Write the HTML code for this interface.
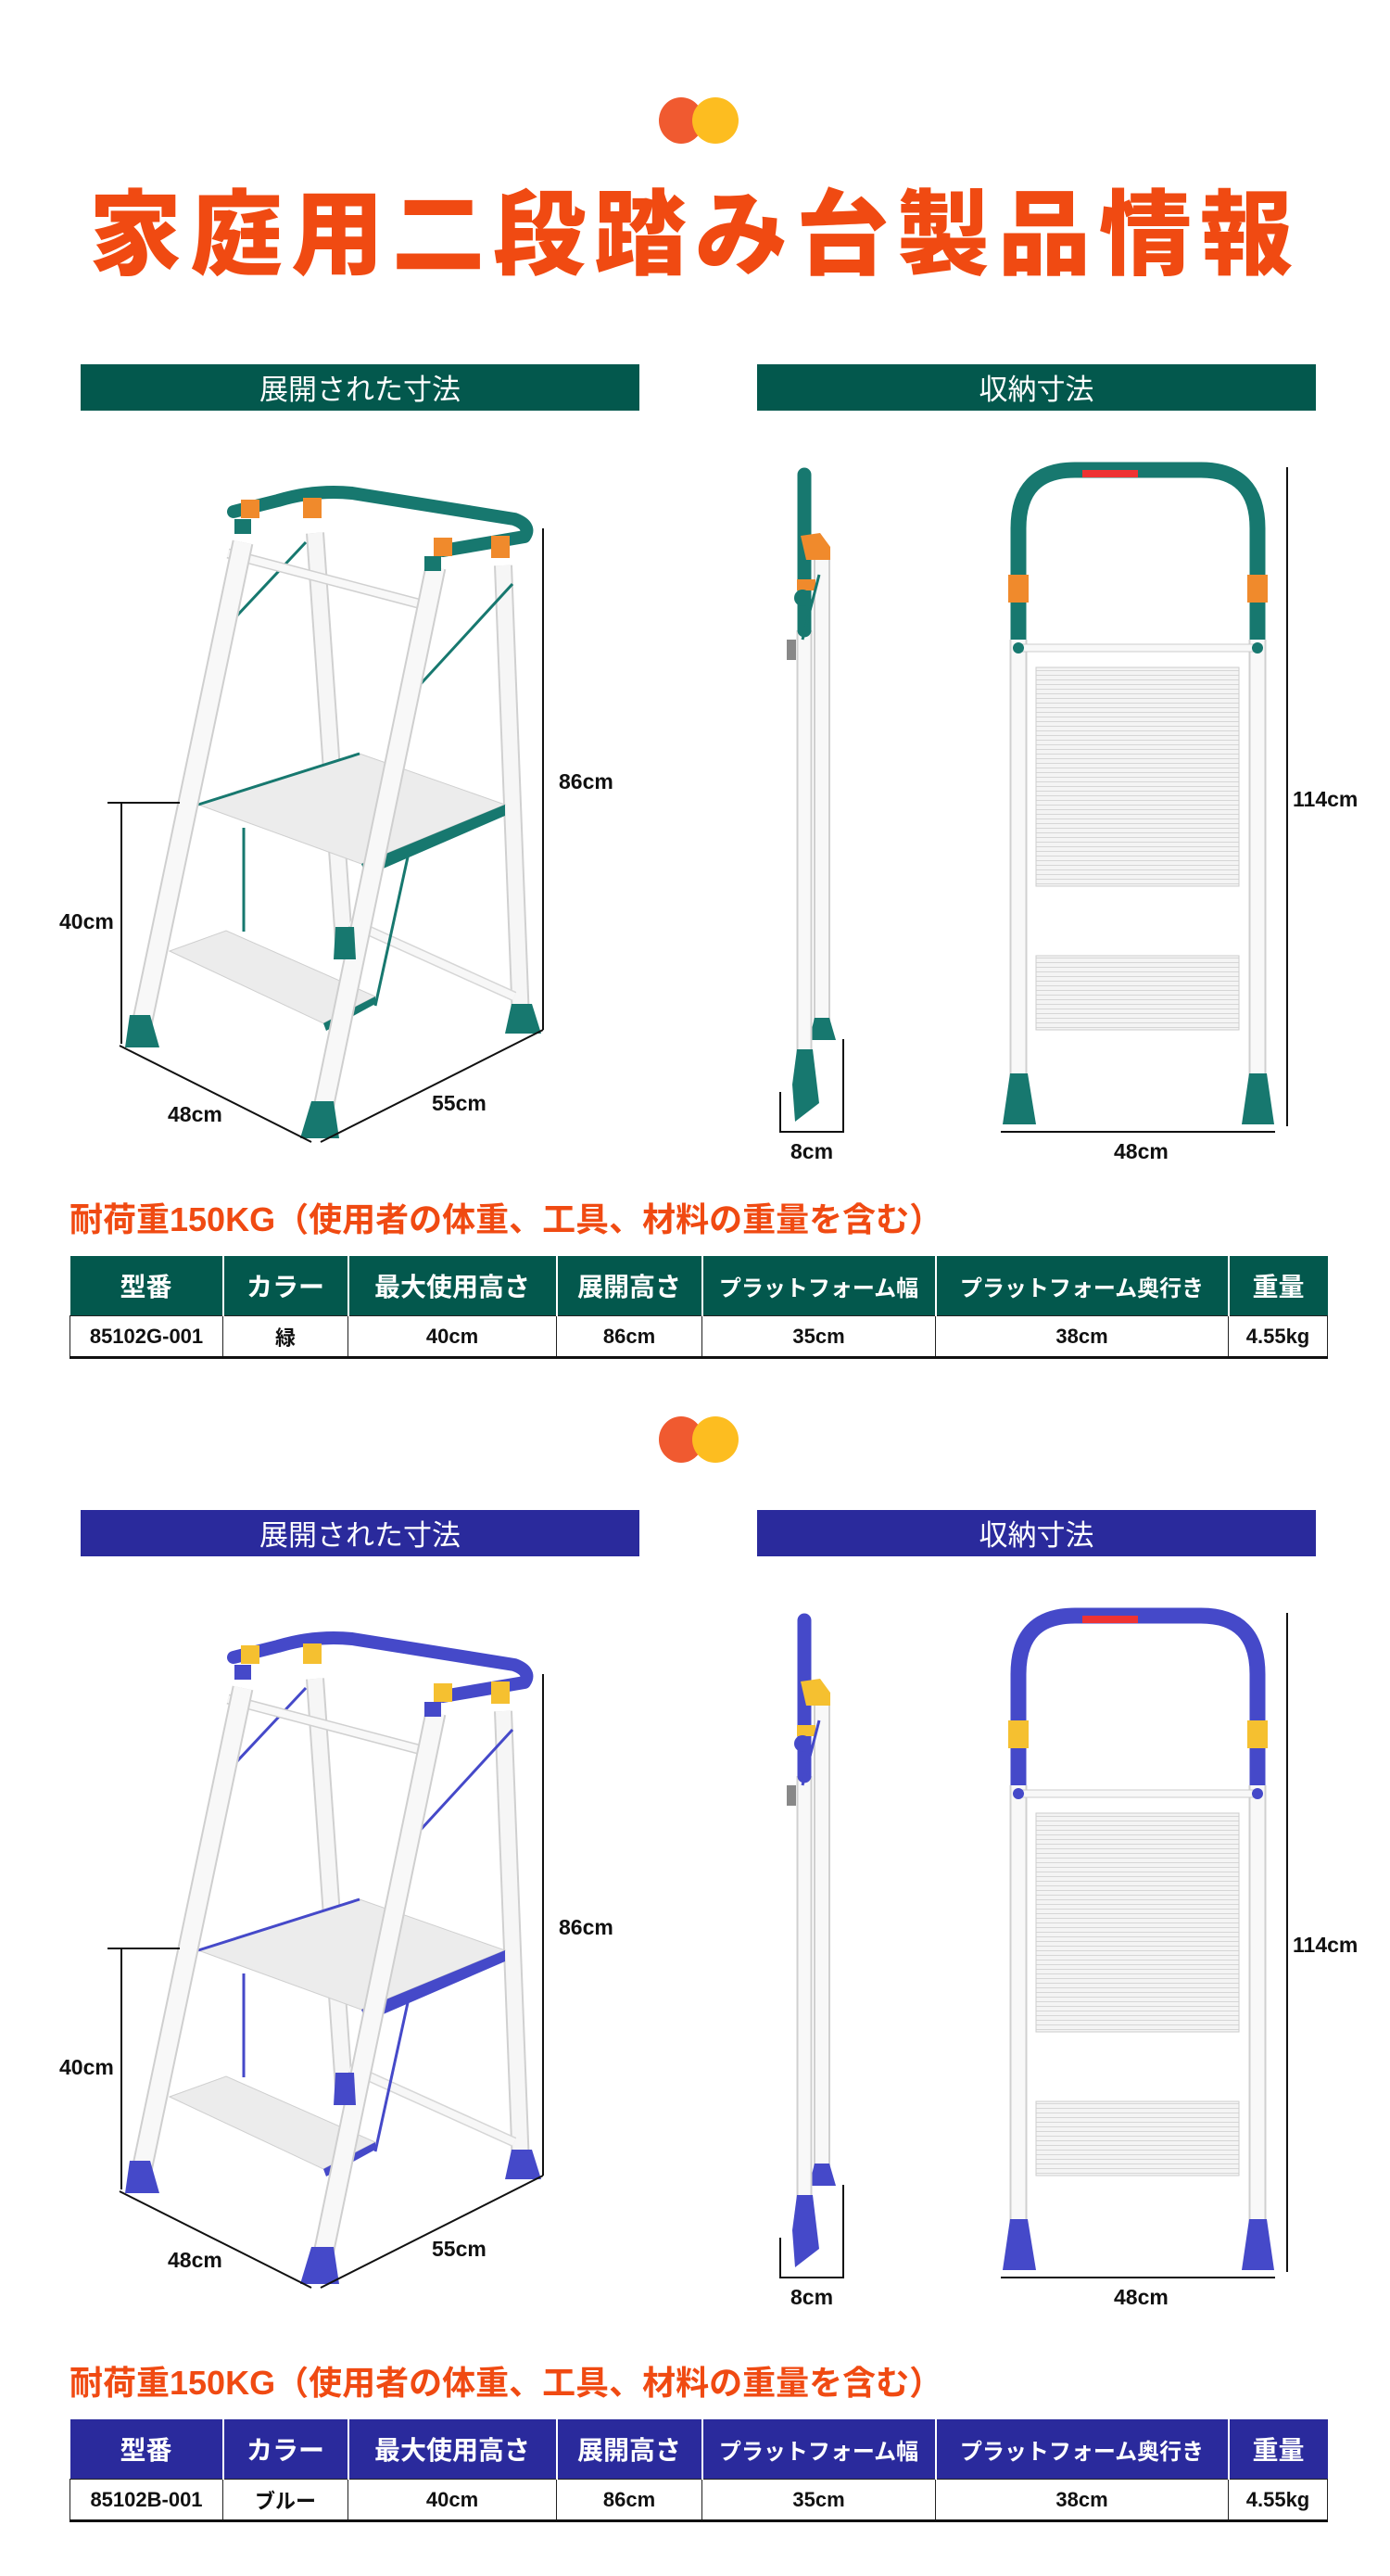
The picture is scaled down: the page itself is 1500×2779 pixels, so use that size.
<!DOCTYPE html>
<html><head><meta charset="utf-8">
<style>
html,body{margin:0;padding:0;background:#fff;}
body{width:1500px;height:2779px;position:relative;overflow:hidden;font-family:"Liberation Sans","Noto Sans CJK JP",sans-serif;}
.abs{position:absolute;}
.title{left:0;width:1500px;top:186px;text-align:center;font-size:100px;line-height:118px;font-weight:900;color:#f04a12;letter-spacing:9px;font-family:"Noto Sans CJK JP","WenQuanYi Zen Hei",sans-serif;}
.hdr{height:50px;line-height:50px;color:#fff;font-size:31px;text-align:center;font-family:"Noto Sans CJK JP",sans-serif;}
.sub{left:75px;font-size:36px;line-height:40px;font-weight:700;color:#f04a12;white-space:nowrap;font-family:"Liberation Sans","Noto Sans CJK JP",sans-serif;}
.lbl{font-size:23px;font-weight:700;color:#111;white-space:nowrap;}
table{position:absolute;left:75px;width:1357px;border-collapse:collapse;table-layout:fixed;font-family:"Liberation Sans","Noto Sans CJK JP",sans-serif;}
th{height:64px;color:#fff;font-size:28px;font-weight:700;padding:0;border-left:2px solid #fff;white-space:nowrap;}
th:first-child{border-left:none;}
th.sm{font-size:24px;}
td{height:43px;font-size:22px;font-weight:700;color:#111;text-align:center;border:1px solid #222;padding:0;white-space:nowrap;}
tr.r td{border-bottom:3px solid #111;}
</style></head><body>

<svg class="abs" style="left:0;top:0" width="1500" height="2779" viewBox="0 0 1500 2779">
<defs>
<pattern id="stripe" width="6" height="5" patternUnits="userSpaceOnUse"><rect width="6" height="5" fill="#f4f4f4"/><rect y="3" width="6" height="1" fill="#d6d6d6"/></pattern>
<g id="lad">
  <line x1="340" y1="575" x2="372" y2="1030" stroke="#d0d0d0" stroke-width="20"/>
  <line x1="340" y1="575" x2="372" y2="1030" stroke="#f6f6f6" stroke-width="16"/>
  <line x1="543" y1="610" x2="562" y2="1100" stroke="#d0d0d0" stroke-width="20"/>
  <line x1="543" y1="610" x2="562" y2="1100" stroke="#f6f6f6" stroke-width="16"/>
  <line x1="378" y1="995" x2="555" y2="1075" stroke="#d6d6d6" stroke-width="11"/>
  <line x1="378" y1="995" x2="555" y2="1075" stroke="#f7f7f7" stroke-width="8"/>
  <line x1="255" y1="665" x2="330" y2="585" stroke="var(--a)" stroke-width="3"/>
  <line x1="452" y1="740" x2="553" y2="630" stroke="var(--a)" stroke-width="3"/>
  <polygon points="214,868 388,813 545,868 390,932" fill="#ececec" stroke="#cfcfcf"/>
  <line x1="214" y1="868" x2="388" y2="813" stroke="var(--a)" stroke-width="3"/>
  <polygon points="390,932 545,868 545,880 395,945" fill="var(--a)"/>
  <line x1="263" y1="1005" x2="263" y2="893" stroke="var(--a)" stroke-width="3"/>
  <line x1="405" y1="1085" x2="441" y2="920" stroke="var(--a)" stroke-width="3"/>
  <polygon points="183,1026 244,1004 405,1075 349,1104" fill="#ececec" stroke="#cfcfcf"/>
  <polygon points="349,1104 405,1075 405,1083 352,1112" fill="var(--a)"/>
  <line x1="246" y1="597" x2="455" y2="652" stroke="#d0d0d0" stroke-width="11"/>
  <line x1="246" y1="597" x2="455" y2="652" stroke="#f8f8f8" stroke-width="8"/>
  <line x1="262" y1="585" x2="152" y2="1110" stroke="#cfcfcf" stroke-width="23"/>
  <line x1="262" y1="585" x2="152" y2="1110" stroke="#f8f8f8" stroke-width="19"/>
  <line x1="470" y1="612" x2="347" y2="1205" stroke="#cfcfcf" stroke-width="23"/>
  <line x1="470" y1="612" x2="347" y2="1205" stroke="#f8f8f8" stroke-width="19"/>
  <path d="M252,552 L300,540 Q340,528 380,532 L555,560 Q574,567 566,579 L478,594" fill="none" stroke="var(--a)" stroke-width="14" stroke-linecap="round" stroke-linejoin="round"/>
  <rect x="260" y="539" width="20" height="20" fill="var(--b)"/>
  <rect x="327" y="537" width="20" height="22" fill="var(--b)"/>
  <rect x="468" y="580" width="20" height="20" fill="var(--b)"/>
  <rect x="530" y="578" width="20" height="24" fill="var(--b)"/>
  <rect x="253" y="560" width="18" height="16" fill="var(--a)"/>
  <rect x="458" y="600" width="18" height="16" fill="var(--a)"/>
  <polygon points="140,1095 162,1095 172,1130 135,1130" fill="var(--a)"/>
  <polygon points="336,1188 360,1188 366,1228 324,1228" fill="var(--a)"/>
  <polygon points="552,1083 574,1083 584,1115 545,1115" fill="var(--a)"/>
  <polygon points="362,1000 382,1000 384,1035 360,1035" fill="var(--a)"/>
  <!-- side folded view -->
  <line x1="887" y1="600" x2="887" y2="1112" stroke="#d0d0d0" stroke-width="18"/>
  <line x1="887" y1="600" x2="887" y2="1112" stroke="#f8f8f8" stroke-width="14"/>
  <polygon points="879,1098 895,1098 902,1122 873,1122" fill="var(--a)"/>
  <line x1="868" y1="680" x2="868" y2="1140" stroke="#d0d0d0" stroke-width="17"/>
  <line x1="868" y1="680" x2="868" y2="1140" stroke="#f8f8f8" stroke-width="13"/>
  <line x1="868" y1="512" x2="868" y2="680" stroke="var(--a)" stroke-width="15" stroke-linecap="round"/>
  <polygon points="860,1132 877,1132 884,1190 858,1210 855,1170" fill="var(--a)"/>
  <polygon points="864,578 885,575 896,590 896,604 870,604" fill="var(--b)"/>
  <rect x="860" y="625" width="20" height="12" fill="var(--b)"/>
  <circle cx="866" cy="645" r="9" fill="var(--a)"/>
  <line x1="884" y1="620" x2="866" y2="690" stroke="var(--a)" stroke-width="3"/>
  <rect x="849" y="690" width="10" height="22" fill="#888"/>
  <!-- front view -->
  <rect x="1118" y="720" width="219" height="236" fill="url(#stripe)" stroke="#ccc"/>
  <rect x="1118" y="1031" width="219" height="80" fill="url(#stripe)" stroke="#ccc"/>
  <line x1="1099" y1="690" x2="1099" y2="1165" stroke="#d0d0d0" stroke-width="19"/>
  <line x1="1099" y1="690" x2="1099" y2="1165" stroke="#f8f8f8" stroke-width="15"/>
  <line x1="1357" y1="690" x2="1357" y2="1165" stroke="#d0d0d0" stroke-width="19"/>
  <line x1="1357" y1="690" x2="1357" y2="1165" stroke="#f8f8f8" stroke-width="15"/>
  <path d="M1099,690 L1099,570 Q1099,507 1160,507 L1296,507 Q1357,507 1357,570 L1357,690" fill="none" stroke="var(--a)" stroke-width="17"/>
  <rect x="1098" y="695" width="260" height="8" fill="#f8f8f8" stroke="#ccc"/>
  <circle cx="1099" cy="699" r="6" fill="var(--a)"/>
  <circle cx="1357" cy="699" r="6" fill="var(--a)"/>
  <rect x="1088" y="620" width="22" height="30" fill="var(--b)"/>
  <rect x="1346" y="620" width="22" height="30" fill="var(--b)"/>
  <polygon points="1090,1158 1109,1158 1118,1213 1082,1213" fill="var(--a)"/>
  <polygon points="1348,1158 1367,1158 1375,1213 1340,1213" fill="var(--a)"/>
  <rect x="1168" y="507" width="60" height="8" fill="#e33"/>
</g>
<g id="dims" fill="none" stroke="#111" stroke-width="2">
  <line x1="586" y1="570" x2="586" y2="1111"/>
  <polyline points="116,866 194,866"/>
  <line x1="131" y1="866" x2="131" y2="1126"/>
  <line x1="129" y1="1128" x2="336" y2="1232"/>
  <line x1="346" y1="1232" x2="586" y2="1111"/>
  <polyline points="842,1178 842,1221 910,1221 910,1121"/>
  <line x1="1389" y1="504" x2="1389" y2="1215"/>
  <line x1="1080" y1="1221" x2="1376" y2="1221"/>
</g>
</defs>
<ellipse cx="735" cy="130" rx="24" ry="25" fill="#f05a30"/>
<ellipse cx="772" cy="130" rx="25" ry="25" fill="#fdbd20"/>
<ellipse cx="735" cy="1553" rx="24" ry="25" fill="#f05a30"/>
<ellipse cx="772" cy="1553" rx="25" ry="25" fill="#fdbd20"/>
<use href="#lad" style="--a:#17786f;--b:#f08a2c"/>
<use href="#dims"/>
<g transform="translate(0,1236)">
<use href="#lad" style="--a:#4549c9;--b:#f5c030"/>
<use href="#dims"/>
</g>
</svg>

<div class="abs title">家庭用二段踏み台製品情報</div>

<div class="abs hdr" style="left:87px;top:393px;width:603px;background:#03584d;">展開された寸法</div>
<div class="abs hdr" style="left:817px;top:393px;width:603px;background:#03584d;">収納寸法</div>
<div class="abs hdr" style="left:87px;top:1629px;width:603px;background:#2a2a9c;">展開された寸法</div>
<div class="abs hdr" style="left:817px;top:1629px;width:603px;background:#2a2a9c;">収納寸法</div>

<div class="abs lbl" style="left:603px;top:830px;">86cm</div>
<div class="abs lbl" style="left:64px;top:981px;">40cm</div>
<div class="abs lbl" style="left:181px;top:1189px;">48cm</div>
<div class="abs lbl" style="left:466px;top:1177px;">55cm</div>
<div class="abs lbl" style="left:853px;top:1229px;">8cm</div>
<div class="abs lbl" style="left:1202px;top:1229px;">48cm</div>
<div class="abs lbl" style="left:1395px;top:849px;">114cm</div>

<div class="abs lbl" style="left:603px;top:2066px;">86cm</div>
<div class="abs lbl" style="left:64px;top:2217px;">40cm</div>
<div class="abs lbl" style="left:181px;top:2425px;">48cm</div>
<div class="abs lbl" style="left:466px;top:2413px;">55cm</div>
<div class="abs lbl" style="left:853px;top:2465px;">8cm</div>
<div class="abs lbl" style="left:1202px;top:2465px;">48cm</div>
<div class="abs lbl" style="left:1395px;top:2085px;">114cm</div>

<div class="abs sub" style="top:1296px;">耐荷重150KG（使用者の体重、工具、材料の重量を含む）</div>
<div class="abs sub" style="top:2551px;">耐荷重150KG（使用者の体重、工具、材料の重量を含む）</div>

<table style="top:1355px;">
<colgroup><col style="width:165px"><col style="width:135px"><col style="width:225px"><col style="width:157px"><col style="width:252px"><col style="width:316px"><col style="width:107px"></colgroup>
<tr style="background:#03584d"><th>型番</th><th>カラー</th><th>最大使用高さ</th><th>展開高さ</th><th class="sm">プラットフォーム幅</th><th class="sm">プラットフォーム奥行き</th><th>重量</th></tr>
<tr class="r"><td>85102G-001</td><td>緑</td><td>40cm</td><td>86cm</td><td>35cm</td><td>38cm</td><td>4.55kg</td></tr>
</table>

<table style="top:2610px;">
<colgroup><col style="width:165px"><col style="width:135px"><col style="width:225px"><col style="width:157px"><col style="width:252px"><col style="width:316px"><col style="width:107px"></colgroup>
<tr style="background:#2a2a9c"><th>型番</th><th>カラー</th><th>最大使用高さ</th><th>展開高さ</th><th class="sm">プラットフォーム幅</th><th class="sm">プラットフォーム奥行き</th><th>重量</th></tr>
<tr class="r"><td>85102B-001</td><td>ブルー</td><td>40cm</td><td>86cm</td><td>35cm</td><td>38cm</td><td>4.55kg</td></tr>
</table>

</body></html>
